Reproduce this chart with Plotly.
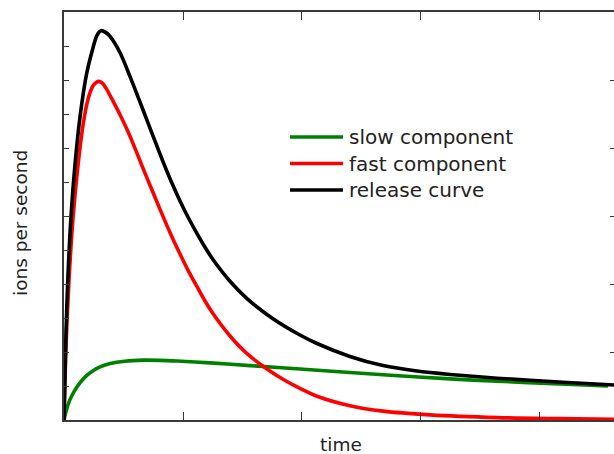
import plotly.graph_objects as go

# ---- data (time and ions per second, arbitrary units) ----
release_t = [0, 0.017, 0.034, 0.059, 0.092, 0.134, 0.191, 0.244, 0.275, 0.311, 0.350,
             0.387, 0.471, 0.555, 0.639, 0.697, 0.765, 0.832, 0.903, 0.975, 1.046,
             1.118, 1.185, 1.252, 1.395, 1.538, 1.756, 1.983, 2.126, 2.403, 2.681,
             2.966, 3.244, 3.639, 4.193, 4.622]
release_v = [0, 2.6, 4.3, 6.0, 7.5, 8.9, 10.2, 10.95, 11.30, 11.45, 11.40,
             11.28, 10.80, 10.10, 9.35, 8.82, 8.20, 7.60, 7.00, 6.44, 5.94,
             5.48, 5.08, 4.72, 4.08, 3.57, 2.98, 2.50, 2.25, 1.87, 1.60,
             1.44, 1.34, 1.23, 1.11, 1.03]

fast_t = [0, 0.017, 0.042, 0.076, 0.118, 0.161, 0.203, 0.244, 0.270, 0.294, 0.325,
          0.353, 0.412, 0.471, 0.529, 0.584, 0.639, 0.697, 0.765, 0.832, 0.903,
          0.975, 1.046, 1.118, 1.185, 1.252, 1.395, 1.538, 1.706, 1.840, 1.983,
          2.126, 2.403, 2.681, 3.076, 3.639, 4.168, 4.622]
fast_v = [0, 2.21, 4.12, 5.95, 7.5, 8.7, 9.45, 9.83, 9.93, 9.96, 9.90,
          9.76, 9.38, 8.98, 8.55, 8.10, 7.62, 7.12, 6.55, 5.99, 5.42,
          4.88, 4.38, 3.92, 3.50, 3.13, 2.47, 1.95, 1.50, 1.20, 0.93,
          0.70, 0.42, 0.26, 0.15, 0.07, 0.04, 0.02]

slow_t = [0, 0.017, 0.050, 0.092, 0.134, 0.185, 0.244, 0.303, 0.387, 0.513, 0.664,
          0.807, 0.950, 1.227, 1.563, 1.983, 2.681, 3.244, 3.639, 4.168, 4.571]
slow_v = [0, 0.25, 0.60, 0.88, 1.09, 1.29, 1.45, 1.56, 1.66, 1.73, 1.76,
          1.755, 1.735, 1.68, 1.60, 1.50, 1.33, 1.21, 1.14, 1.06, 1.00]

series_names = ["slow component", "fast component", "release curve"]
series_colors = ["#008000", "#ff0000", "#000000"]

X_RANGE = [0, 4.622]
Y_RANGE = [0, 12]

# ---- figure ----
W, H = 614, 454
ML, MR, MT, MB = 64, 0, 12, 34
PW, PH = W - ML - MR, H - MT - MB

def px_x(px):
    return (px - ML) / PW

def px_y(py):
    return (H - MB - py) / PH

fig = go.Figure()
for t, v, name, col in [(slow_t, slow_v, series_names[0], series_colors[0]),
                        (fast_t, fast_v, series_names[1], series_colors[1]),
                        (release_t, release_v, series_names[2], series_colors[2])]:
    fig.add_trace(go.Scatter(x=t, y=v, mode="lines", name=name,
                             line=dict(color=col, width=3.6, shape="spline", smoothing=0.8),
                             showlegend=False, hoverinfo="skip"))
# empty trace so the right-hand tick axis is drawn
fig.add_trace(go.Scatter(x=[], y=[], yaxis="y2", showlegend=False, hoverinfo="skip"))

axis_col = "#3a3a3a"
fig.update_layout(
    width=W, height=H,
    margin=dict(l=ML, r=MR, t=MT, b=MB),
    paper_bgcolor="white", plot_bgcolor="white",
    showlegend=False,
    xaxis=dict(range=X_RANGE, showgrid=False, zeroline=False, showticklabels=False,
               showline=True, linecolor=axis_col, linewidth=1.6, mirror="allticks",
               ticks="inside", tickcolor=axis_col, ticklen=8, tickwidth=1.4,
               tick0=0, dtick=2,
               minor=dict(ticks="inside", dtick=1, ticklen=5, tickcolor=axis_col, tickwidth=1.4)),
    yaxis=dict(range=Y_RANGE, showgrid=False, zeroline=False, showticklabels=False,
               showline=True, linecolor=axis_col, linewidth=1.6,
               ticks="inside", tickcolor=axis_col, ticklen=5, tickwidth=1.4,
               tick0=0, dtick=1),
    yaxis2=dict(range=Y_RANGE, overlaying="y", side="right", showgrid=False, zeroline=False,
                showticklabels=False, showline=False, ticks="inside", tickcolor=axis_col,
                ticklen=4, tickwidth=1.4, tick0=0, dtick=2),
)

title_font = dict(family="DejaVu Sans, Verdana, sans-serif", size=18.5, color="#222")
legend_font = dict(family="DejaVu Sans, Verdana, sans-serif", size=20, color="#222")

# axis titles
fig.add_annotation(text="ions per second", xref="paper", yref="paper",
                   x=px_x(21), y=px_y(223), showarrow=False, textangle=-90,
                   font=title_font, xanchor="center", yanchor="middle")
fig.add_annotation(text="time", xref="paper", yref="paper",
                   x=px_x(341), y=px_y(444), showarrow=False,
                   font=title_font, xanchor="center", yanchor="middle")

# legend drawn manually
leg_rows = [137, 163.5, 190]
for name, col, ry in zip(series_names, series_colors, leg_rows):
    fig.add_shape(type="line", xref="paper", yref="paper",
                  x0=px_x(290), x1=px_x(343), y0=px_y(ry), y1=px_y(ry),
                  line=dict(color=col, width=3.6))
    fig.add_annotation(text=name, xref="paper", yref="paper",
                       x=px_x(347), y=px_y(ry), showarrow=False,
                       font=legend_font, xanchor="left", yanchor="middle")

fig.write_html("out.html")
